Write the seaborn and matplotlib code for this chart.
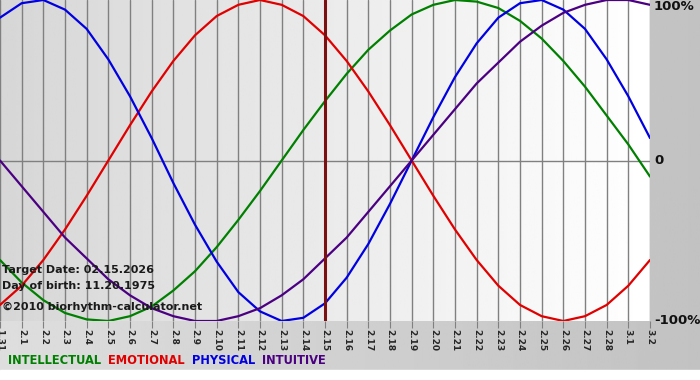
import matplotlib
matplotlib.use('Agg')
import matplotlib.pyplot as plt
import seaborn as sns
import pandas as pd
import numpy as np

# days shown on the x axis (month.day)
day_labels = ['1.31'] + ['2.%d' % d for d in range(1, 29)] + ['3.1', '3.2']
target_index = 15  # 2.15

# daily biorhythm values (-1 .. 1)
intellectual = [-0.62, -0.76, -0.87, -0.95, -0.99, -1.00, -0.97, -0.91, -0.81, -0.69,
                -0.54, -0.37, -0.19, 0.00, 0.19, 0.37, 0.54, 0.69, 0.81, 0.91,
                0.97, 1.00, 0.99, 0.95, 0.87, 0.76, 0.62, 0.46, 0.28, 0.10, -0.10]
emotional = [-0.90, -0.78, -0.62, -0.43, -0.22, 0.00, 0.22, 0.43, 0.62, 0.78,
             0.90, 0.97, 1.00, 0.97, 0.90, 0.78, 0.62, 0.43, 0.22, 0.00,
             -0.22, -0.43, -0.62, -0.78, -0.90, -0.97, -1.00, -0.97, -0.90, -0.78, -0.62]
physical = [0.89, 0.98, 1.00, 0.94, 0.82, 0.63, 0.40, 0.14, -0.14, -0.40,
            -0.63, -0.82, -0.94, -1.00, -0.98, -0.89, -0.73, -0.52, -0.27, 0.00,
            0.27, 0.52, 0.73, 0.89, 0.98, 1.00, 0.94, 0.82, 0.63, 0.40, 0.14]
intuitive = [0.00, -0.16, -0.32, -0.48, -0.61, -0.74, -0.84, -0.92, -0.97, -1.00,
             -1.00, -0.97, -0.92, -0.84, -0.74, -0.61, -0.48, -0.32, -0.16, 0.00,
             0.16, 0.32, 0.48, 0.61, 0.74, 0.84, 0.92, 0.97, 1.00, 1.00, 0.97]

series_names = ['INTELLECTUAL', 'EMOTIONAL', 'PHYSICAL', 'INTUITIVE']
series_colors = ['#008000', '#e00000', '#0000e0', '#4b0082']

rows = []
for name, vals in zip(series_names, [intellectual, emotional, physical, intuitive]):
    for i, v in enumerate(vals):
        rows.append({'day': i, 'value': v, 'series': name})
df = pd.DataFrame(rows)

sns.set_style('white')
plt.rcParams['font.family'] = ['DejaVu Sans']

W, H = 700, 380
fig = plt.figure(figsize=(W / 100, H / 100), dpi=100)

# figure background gradient
bg = fig.add_axes([0, 0, 1, 1], zorder=-10)
grad = np.linspace(0.87, 0.76, 256).reshape(1, -1)
bg.imshow(grad, cmap='gray', vmin=0, vmax=1, aspect='auto', extent=[0, 1, 0, 1])
bg.axhspan(0, 10 / H, color='white')
bg.set_xlim(0, 1)
bg.set_ylim(0, 1)
bg.axis('off')

plot_h = 321
ax = fig.add_axes([0, 1 - plot_h / H, 650 / W, plot_h / H])
n = len(day_labels) - 1

# plot area gradient gray -> white
pgrad = np.linspace(0.84, 1.0, 256).reshape(1, -1)
ax.imshow(pgrad, cmap='gray', vmin=0, vmax=1, aspect='auto',
          extent=[0, n, -1, 1], zorder=0)

for i in range(len(day_labels)):
    ax.axvline(i, color='#808080', lw=1, zorder=1)
ax.axhline(0, color='#808080', lw=1, zorder=1)

sns.lineplot(data=df, x='day', y='value', hue='series', palette=series_colors,
             hue_order=series_names, lw=1.6, legend=False, ax=ax, zorder=3)

ax.axvline(target_index, color='#7a1010', lw=2.2, zorder=4)

ax.set_xlim(0, n)
ax.set_ylim(-1, 1)
ax.set_xticks(range(len(day_labels)))
ax.set_xticklabels(day_labels, rotation=-90, fontsize=6.5, fontweight='bold',
                   va='top', ha='center')
ax.tick_params(axis='x', length=5, color='#808080', pad=1, bottom=True)
ax.set_yticks([])
ax.set_xlabel('')
ax.set_ylabel('')
for s in ax.spines.values():
    s.set_visible(False)

# right side percentage labels
for val, txt in [(1, '100%'), (0, '0'), (-1, '-100%')]:
    ax.text(n + 0.18, val, txt, fontsize=9.5, fontweight='bold', color='#111111',
            ha='left', va='center' if val != 1 else 'top', clip_on=False)

# info text in the plot
info_kw = dict(fontsize=8, fontweight='bold', color='#1a1a1a', va='center')
ax.text(0.08, -0.68, 'Target Date: 02.15.2026', **info_kw)
ax.text(0.08, -0.78, 'Day of birth: 11.20.1975', **info_kw)
ax.text(0.08, -0.915, '\u00a92010 biorhythm-calculator.net', **info_kw)

# legend text at the bottom
x_pos = 8
for name, col in zip(series_names, series_colors):
    t = fig.text(x_pos / W, 1 - 361 / H, name, fontsize=8.3, fontweight='bold',
                 color=col, va='center', ha='left')
    fig.canvas.draw()
    bb = t.get_window_extent()
    x_pos += bb.width + 7

fig.savefig('out.png', dpi=100)
plt.close(fig)
